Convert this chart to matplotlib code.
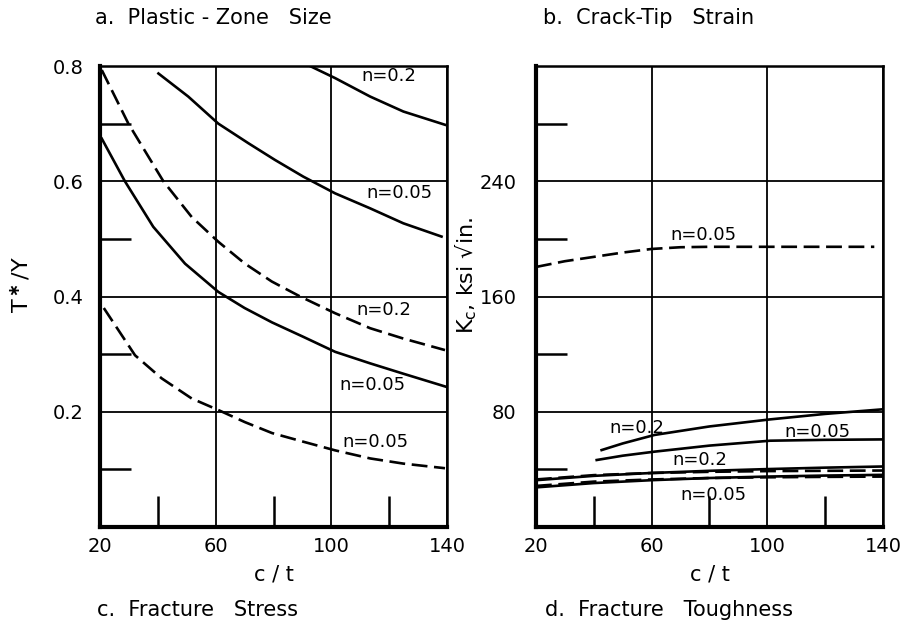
import matplotlib
matplotlib.use("Agg")
import matplotlib.pyplot as plt

# ---- left panel: T*/Y vs c/t
a_n02_solid_x = [92.6, 101.3, 113.4, 124.9, 139.3]
a_n02_solid_y = [0.80, 0.779, 0.747, 0.721, 0.698]
a_n005_solid_x = [40.2, 50.5, 60.9, 71.3, 80.5, 90.3, 101.3, 113.4, 124.9, 138.1]
a_n005_solid_y = [0.787, 0.747, 0.70, 0.666, 0.637, 0.608, 0.579, 0.553, 0.527, 0.504]
a_n02_dash_x = [20.6, 29.8, 41.9, 51.7, 60.9, 70.1, 79.4, 89.2, 101.3, 113.4, 124.9, 139.3]
a_n02_dash_y = [0.793, 0.70, 0.60, 0.538, 0.495, 0.457, 0.426, 0.40, 0.371, 0.345, 0.327, 0.307]
a_n005_low_x = [20.6, 28.6, 38.4, 49.4, 60.9, 70.0, 79.5, 90.3, 101.3, 113.4, 124.9, 139.9]
a_n005_low_y = [0.674, 0.60, 0.521, 0.457, 0.408, 0.38, 0.355, 0.330, 0.304, 0.284, 0.266, 0.243]
a_n005_dash_x = [21.3, 32.1, 41.3, 51.7, 60.9, 70.1, 79.5, 90.3, 101.3, 113.4, 124.9, 139.3]
a_n005_dash_y = [0.38, 0.298, 0.258, 0.223, 0.203, 0.182, 0.163, 0.148, 0.133, 0.119, 0.110, 0.102]
a_labels = ["n=0.2", "n=0.05", "n=0.2", "n=0.05", "n=0.05"]
a_label_x = [120, 123.7, 118, 114.2, 115.4]
a_label_y = [0.782, 0.579, 0.376, 0.246, 0.148]

# ---- right panel: Kc vs c/t
b_n005_dash_x = [20, 30, 40, 50, 60, 70, 80, 100, 120, 137]
b_n005_dash_y = [180.5, 184.5, 187.5, 190.5, 193.0, 194.2, 194.5, 194.5, 194.5, 194.5]
b_n02_solid_x = [42.7, 50, 61, 80, 101, 120, 140]
b_n02_solid_y = [53.4, 58, 63.9, 69.8, 74.7, 78.5, 81.7]
b_n005_solid_x = [41, 50, 61, 80, 101, 120, 140]
b_n005_solid_y = [46.5, 49.5, 52.3, 56.5, 59.9, 60.5, 60.8]
b_low_x = [20, 40, 60, 80, 100, 120, 140]
b_n02_low_solid = [32.5, 35.5, 37.5, 39.0, 40.2, 41.2, 42.0]
b_n02_low_dash = [33.0, 36.0, 37.5, 38.3, 38.8, 39.0, 39.2]
b_n005_low_solid = [27.5, 30.5, 32.5, 34.0, 35.0, 35.7, 36.2]
b_n005_low_dash = [28.5, 31.5, 33.0, 34.0, 34.5, 34.8, 35.0]
b_labels = ["n=0.05", "n=0.2", "n=0.05", "n=0.2", "n=0.05"]
b_label_x = [78, 54.8, 117.3, 76.7, 81.5]
b_label_y = [202.6, 68.5, 66.2, 46.5, 22.2]

xticks = [20, 60, 100, 140]
xminor = [40, 80, 120]

DASH = (0, (6, 2.5))
FS = 13

fig = plt.figure(figsize=(9.02, 6.25), dpi=100)
ax1 = fig.add_axes([0.1109, 0.1568, 0.3847, 0.7376])
ax2 = fig.add_axes([0.5942, 0.1568, 0.3847, 0.7376])


def style(ax, yticks, ylabels, yminor, ylim, ypad):
    ax.set_xlim(20, 140)
    ax.set_ylim(*ylim)
    ax.set_xticks(xticks)
    ax.set_xticklabels([str(v) for v in xticks], fontsize=14)
    ax.set_xticks(xminor, minor=True)
    ax.set_yticks(yticks)
    ax.set_yticklabels(ylabels, fontsize=14)
    ax.set_yticks(yminor, minor=True)
    ax.tick_params(which="major", length=0)
    ax.tick_params(axis="x", which="major", pad=7)
    ax.tick_params(axis="y", which="major", pad=ypad)
    ax.tick_params(which="minor", direction="in", length=22, width=1.8,
                   labelleft=False, labelbottom=False)
    ax.grid(True, which="major", color="black", lw=1.3)
    for s in ["left", "bottom"]:
        ax.spines[s].set_linewidth(3)
    for s in ["top", "right"]:
        ax.spines[s].set_linewidth(1.8)
    ax.set_xlabel("c / t", fontsize=15, labelpad=6)


style(ax1, [0.2, 0.4, 0.6, 0.8], ["0.2", "0.4", "0.6", "0.8"],
      [0.1, 0.3, 0.5, 0.7], (0, 0.8), 12)
style(ax2, [80, 160, 240], ["80", "160", "240"],
      [40, 120, 200, 280], (0, 320), 14)

lw = 1.9
ax1.plot(a_n02_solid_x, a_n02_solid_y, color="black", lw=lw)
ax1.plot(a_n005_solid_x, a_n005_solid_y, color="black", lw=lw)
ax1.plot(a_n02_dash_x, a_n02_dash_y, color="black", lw=lw, ls=DASH)
ax1.plot(a_n005_low_x, a_n005_low_y, color="black", lw=lw)
ax1.plot(a_n005_dash_x, a_n005_dash_y, color="black", lw=lw, ls=DASH)
for t, x, y in zip(a_labels, a_label_x, a_label_y):
    ax1.text(x, y, t, fontsize=FS, ha="center", va="center")
ax1.set_ylabel(r"T$^{\bf\ast}$/Y", fontsize=16)
ax1.yaxis.set_label_coords(-0.196, 0.525)

ax2.plot(b_n005_dash_x, b_n005_dash_y, color="black", lw=lw, ls=DASH)
ax2.plot(b_n02_solid_x, b_n02_solid_y, color="black", lw=lw)
ax2.plot(b_n005_solid_x, b_n005_solid_y, color="black", lw=lw)
ax2.plot(b_low_x, b_n02_low_solid, color="black", lw=lw)
ax2.plot(b_low_x, b_n02_low_dash, color="black", lw=lw, ls=DASH)
ax2.plot(b_low_x, b_n005_low_solid, color="black", lw=lw)
ax2.plot(b_low_x, b_n005_low_dash, color="black", lw=lw, ls=DASH)
for t, x, y in zip(b_labels, b_label_x, b_label_y):
    ax2.text(x, y, t, fontsize=FS, ha="center", va="center")
ax2.set_ylabel(r"K$_\mathrm{c}$, ksi √in.", fontsize=16)
ax2.yaxis.set_label_coords(-0.165, 0.545)

fig.text(0.105, 0.971, "a.  Plastic - Zone   Size", fontsize=15, va="center")
fig.text(0.602, 0.971, "b.  Crack-Tip   Strain", fontsize=15, va="center")
fig.text(0.107, 0.024, "c.  Fracture   Stress", fontsize=15, va="center")
fig.text(0.604, 0.024, "d.  Fracture   Toughness", fontsize=15, va="center")

fig.savefig("out.png", dpi=100)
